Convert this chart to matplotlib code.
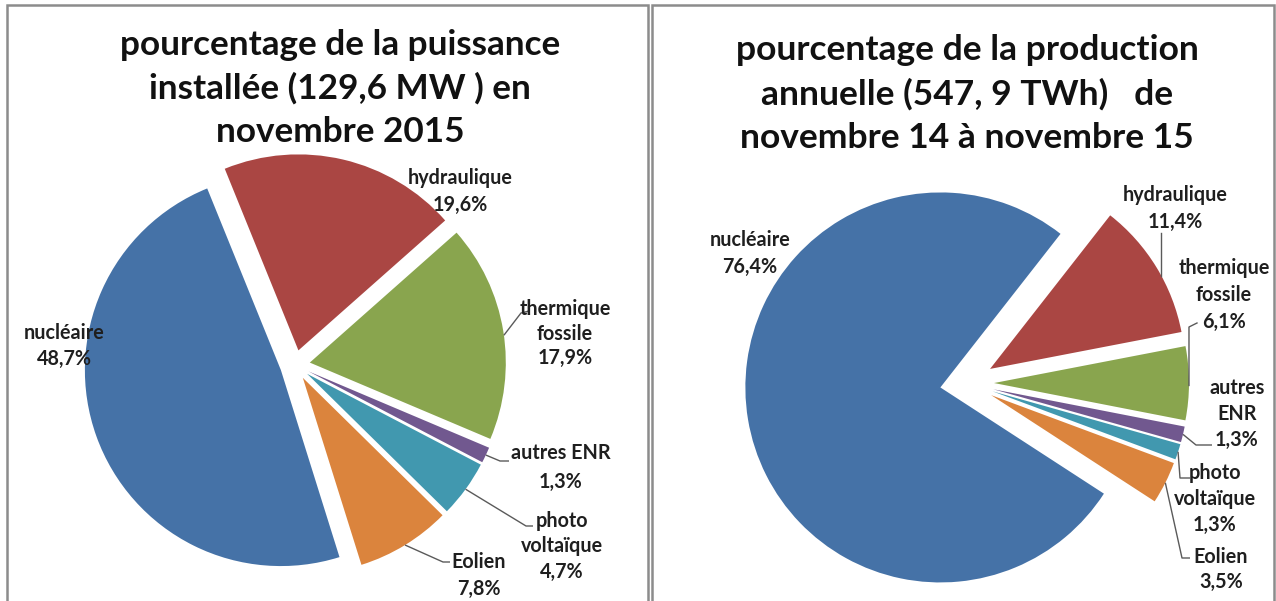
import numpy as np
import matplotlib
matplotlib.use("Agg")
import matplotlib.pyplot as plt
from matplotlib.patches import Rectangle

W, H = 1276, 601

# ---- data ----
categories = ["nucléaire", "hydraulique", "thermique fossile", "autres ENR",
              "photo voltaïque", "Eolien"]
puissance_pct = [48.7, 19.6, 17.9, 1.3, 4.7, 7.8]
production_pct = [76.4, 11.4, 6.1, 1.3, 1.3, 3.5]
labels_left = ["nucléaire", "hydraulique", "thermique\nfossile", "autres ENR",
               "photo\nvoltaïque", "Eolien"]
labels_right = ["nucléaire", "hydraulique", "thermique\nfossile", "autres\nENR",
                "photo\nvoltaïque", "Eolien"]
title_left = "pourcentage de la puissance\ninstallée (129,6 MW ) en\nnovembre 2015"
title_right = "pourcentage de la production\nannuelle (547, 9 TWh)   de\nnovembre 14 à novembre 15"
colors = ["#4572A7", "#AA4643", "#89A54E", "#71588F", "#4198AF", "#DB843D"]

FONT = ["Lato", "DejaVu Sans"]
TXT = "#1f1f1f"
LEAD = "#5a5a5a"


def Y(y):
    return H - y


def pct(v):
    return f"{v:.1f}".replace(".", ",") + "%"


fig = plt.figure(figsize=(W / 100, H / 100), dpi=100)
ax = fig.add_axes([0, 0, 1, 1])

# ---- pies ----
wl, _ = ax.pie(puissance_pct, colors=colors, center=(295, Y(365)), radius=196,
               startangle=-72.6, counterclock=False, explode=[15] * 6,
               wedgeprops=dict(linewidth=0))
wr, _ = ax.pie(production_pct, colors=colors, center=(967, Y(383)), radius=195,
               startangle=-33, counterclock=False, explode=[27] * 6,
               wedgeprops=dict(linewidth=0))

ax.set_xlim(0, W)
ax.set_ylim(0, H)
ax.set_aspect("equal")
ax.axis("off")

# ---- frames ----
for x0, x1 in [(7, 648), (652, 1274)]:
    ax.add_patch(Rectangle((x0, Y(640)), x1 - x0, 635, fill=False,
                           edgecolor="#8c8c8c", linewidth=1.8, clip_on=False))


def arc_pt(w, frac):
    th = np.deg2rad(w.theta1 + frac * (w.theta2 - w.theta1))
    return (w.center[0] + w.r * np.cos(th), w.center[1] + w.r * np.sin(th))


def label(x, y0, text, dy=25.5, size=14.2):
    for i, line in enumerate(text.split("\n")):
        ax.text(x, Y(y0 + i * dy), line, ha="center", va="center",
                fontsize=size, fontweight="bold", color=TXT, family=FONT)


def leader(w, frac, pts):
    p0 = arc_pt(w, frac)
    xs = [p0[0]] + [p[0] for p in pts]
    ys = [p0[1]] + [Y(p[1]) for p in pts]
    ax.plot(xs, ys, color=LEAD, linewidth=1.0, solid_capstyle="butt")


# ---- titles ----
for i, line in enumerate(title_left.split("\n")):
    ax.text(340, Y(45 + i * 43.5), line, ha="center", va="center",
            fontsize=25.3, fontweight="bold", color="#111111", family=FONT)
for i, line in enumerate(title_right.split("\n")):
    ax.text(967, Y(50 + i * 44), line, ha="center", va="center",
            fontsize=25.5, fontweight="bold", color="#111111", family=FONT)

# ---- left labels ----
L = [f"{n}\n{pct(v)}" for n, v in zip(labels_left, puissance_pct)]
label(64, 333, L[0])
label(460, 178, L[1], dy=27)
label(565, 309, L[2], dy=24.5)
label(561, 453, L[3], dy=29)
label(562, 521, L[4], dy=25.5)
label(479, 562, L[5], dy=27)
leader(wl[2], 0.48, [(521, 313), (529, 311)])
leader(wl[3], 0.5, [(500, 461), (509, 461)])
leader(wl[4], 0.5, [(526, 526), (533, 526)])
leader(wl[5], 0.5, [(443, 562), (450, 562)])

# ---- right labels ----
R = [f"{n}\n{pct(v)}" for n, v in zip(labels_right, production_pct)]
label(750, 240, R[0], dy=27)
label(1175, 195, R[1], dy=27)
label(1224, 268, R[2], dy=27)
label(1237, 388, R[3], dy=26)
label(1215, 473, R[4], dy=26)
label(1221, 557, R[5], dy=25)

p = arc_pt(wr[1], 0.43)
ax.plot([p[0], p[0]], [p[1], Y(233)], color=LEAD, linewidth=1.0)
p = arc_pt(wr[2], 0.47)
ax.plot([p[0], p[0], p[0] + 8], [p[1], Y(327), Y(323)], color=LEAD, linewidth=1.0)
leader(wr[3], 0.5, [(1196, 445), (1212, 445)])
leader(wr[4], 0.5, [(1180, 478), (1190, 478)])
leader(wr[5], 0.5, [(1182, 558), (1190, 558)])

fig.savefig("out.png", dpi=100, facecolor="white")
